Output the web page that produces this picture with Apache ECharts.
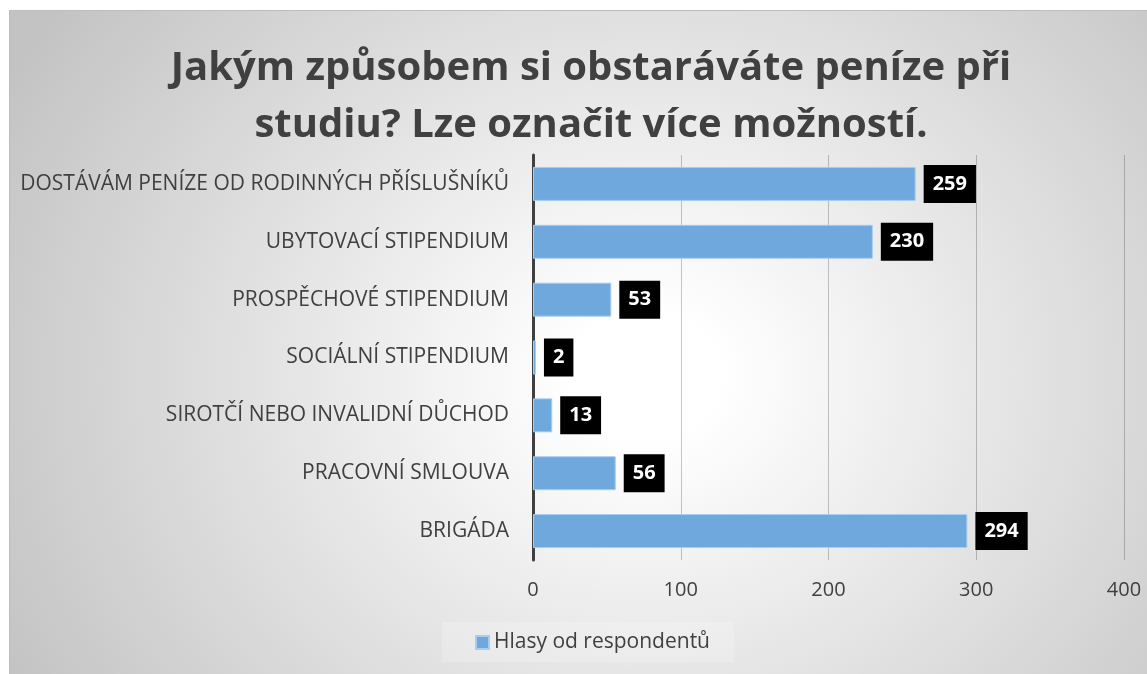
<!DOCTYPE html>
<html>
<head>
<meta charset="utf-8">
<script src="https://cdn.jsdelivr.net/npm/echarts@6/dist/echarts.min.js"></script>
<style>
  html, body { margin: 0; padding: 0; background: #fff; }
  #chart {
    position: absolute;
    left: 9px;
    top: 10px;
    width: 1138px;
    height: 664px;
    box-sizing: border-box;
    border-left: 1px solid #bdbdbd;
    border-top: 1px solid #bdbdbd;
    background: radial-gradient(ellipse 64% 95% at 56% 55%, #ffffff 10%, #c3c3c3 100%);
  }
</style>
</head>
<body>
<div id="chart"></div>
<script>
// data
var categories = [
  'DOSTÁVÁM PENÍZE OD RODINNÝCH PŘÍSLUŠNÍKŮ',
  'UBYTOVACÍ STIPENDIUM',
  'PROSPĚCHOVÉ STIPENDIUM',
  'SOCIÁLNÍ STIPENDIUM',
  'SIROTČÍ NEBO INVALIDNÍ DŮCHOD',
  'PRACOVNÍ SMLOUVA',
  'BRIGÁDA'
]
var votes = [259, 230, 53, 2, 13, 56, 294]
var seriesName = 'Hlasy od respondentů'
var titleText = 'Jakým způsobem si obstaráváte peníze při\nstudiu? Lze označit více možností.'

var chart = echarts.init(document.getElementById('chart'))
var font = '"Open Sans", "Noto Sans", sans-serif'

var option = {
  backgroundColor: 'transparent',
  textStyle: { fontFamily: font },
  title: {
    text: titleText,
    left: 576,
    top: 24,
    textAlign: 'center',
    textStyle: {
      fontFamily: font,
      fontSize: 40,
      fontWeight: 'bold',
      color: '#404040',
      lineHeight: 57
    }
  },
  legend: {
    data: [seriesName],
    left: 432,
    top: 611,
    padding: [10, 24, 9, 33],
    backgroundColor: 'rgba(255,255,255,0.2)',
    itemWidth: 13,
    itemHeight: 13,
    icon: 'rect',
    textStyle: { fontFamily: font, fontSize: 21, color: '#404040' }
  },
  grid: {
    left: 523,
    right: 23,
    top: 144,
    bottom: 114,
    containLabel: false
  },
  xAxis: {
    type: 'value',
    min: 0,
    max: 400,
    interval: 100,
    axisLine: { show: false },
    axisTick: { show: false },
    axisLabel: { fontFamily: font, fontSize: 20, color: '#404040', margin: 20 },
    splitLine: { lineStyle: { color: 'rgba(0,0,0,0.22)', width: 1 } }
  },
  yAxis: {
    type: 'category',
    data: categories,
    inverse: true,
    axisLine: { show: true, lineStyle: { color: '#404040', width: 3 } },
    axisTick: { show: false },
    axisLabel: { fontFamily: font, fontSize: 21, color: '#404040', margin: 24 }
  },
  series: [{
    name: seriesName,
    type: 'bar',
    data: votes,
    barWidth: 34,
    itemStyle: {
      color: '#6fa8dc',
      borderColor: '#a9cdee',
      borderWidth: 1
    },
    label: {
      show: true,
      position: 'right',
      distance: 8,
      backgroundColor: '#000',
      color: '#fff',
      fontFamily: font,
      fontSize: 20,
      fontWeight: 'bold',
      lineHeight: 20,
      padding: [9, 9, 9, 9]
    }
  }]
}
chart.setOption(option)
</script>
</body>
</html>
